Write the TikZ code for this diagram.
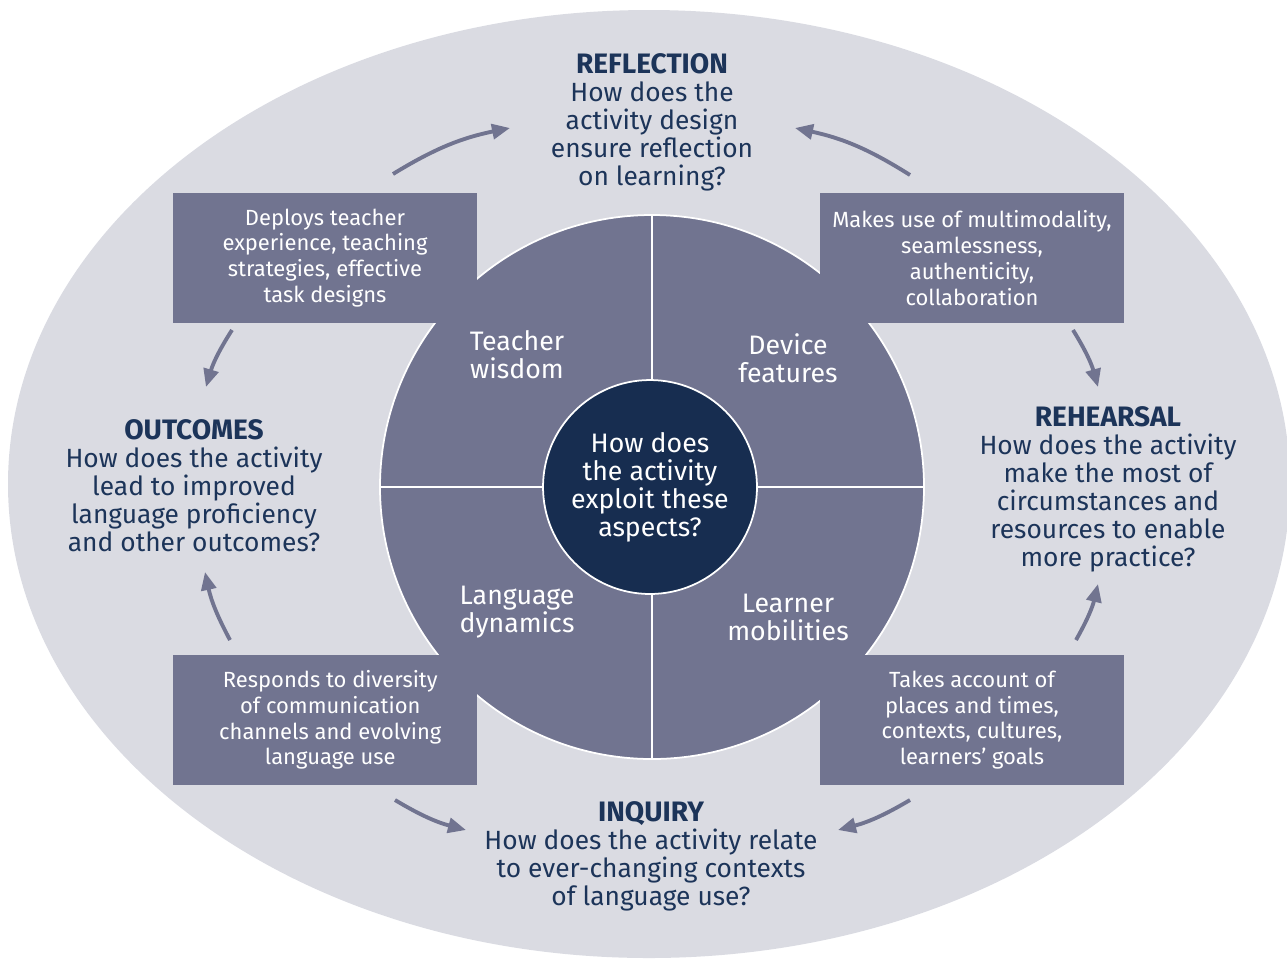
\documentclass[tikz,border=0pt]{standalone}
\usepackage{fontspec}
\setmainfont{Fira Sans}
\usetikzlibrary{arrows.meta}
\definecolor{valkoinen}{HTML}{FFFFFF}
\definecolor{harmaa}{HTML}{DADBE2}
\definecolor{violetti}{HTML}{717490}
\definecolor{tumma}{HTML}{172D50}
\definecolor{teksti}{HTML}{1C3459}

\tikzset{
  laatikko/.style={fill=violetti, minimum width=6.08cm, minimum height=2.6cm,
    text=valkoinen, align=center, font=\fontsize{12.5}{14.7}\selectfont},
  kysymys/.style={text=teksti, align=center, font=\fontsize{15}{15.9}\selectfont},
  osa/.style={text=valkoinen, align=center, font=\fontsize{15.2}{15.9}\selectfont},
  nuoli/.style={violetti, line width=2.2pt, -{Triangle[length=3.6mm,width=3mm]}},
}
\newcommand{\otsikko}[1]{{\fontsize{16}{15.9}\selectfont\bfseries #1}}

\begin{document}
\begin{tikzpicture}[x=0.02cm, y=-0.02cm]
				\useasboundingbox (0,0) rectangle (1287,958);
				\clip (0,0) rectangle (1287,958);
				\fill[harmaa] (649,484) ellipse (641 and 474);
				% ympyrä ja neljännekset
				\draw[fill=violetti, draw=valkoinen, line width=1pt] (652,487) circle (272);
				\draw[valkoinen, line width=1pt] (652,215) -- (652,759) (380,487) -- (924,487);
				\node[circle, fill=tumma, draw=valkoinen, line width=1pt, minimum size=4.28cm, inner sep=0pt, osa] (keskus) at (650,487) {How does\\the activity\\exploit these\\aspects?};
				\node[osa] (opettaja) at (517,355) {Teacher\\wisdom};
				\node[osa] (laite) at (788,358) {Device\\features};
				\node[osa] (kieli) at (517,612) {Language\\dynamics};
				\node[osa] (oppija) at (788,617) {Learner\\mobilities};
				% laatikot
				\node[laatikko] (vasenyla) at (325,258) {Deploys teacher\\experience, teaching\\strategies, effective\\task designs};
				\node[laatikko] (oikeayla) at (972,258) {Makes use of multimodality,\\seamlessness,\\authenticity,\\collaboration};
				\node[laatikko] (vasenala) at (325,720) {\hspace*{6pt}Responds to diversity\\\hspace*{6pt}of communication\\\hspace*{6pt}channels and evolving\\\hspace*{6pt}language use};
				\node[laatikko] (oikeaala) at (972,720) {Takes account of\\places and times,\\contexts, cultures,\\learners’ goals};
				% kysymykset
				\node[kysymys] (pohdinta) at (652,122) {\otsikko{REFLECTION}\\How does the\\activity design\\ensure reflection\\on learning?};
				\node[kysymys] (harjoitus) at (1108,489) {\otsikko{REHEARSAL}\\How does the activity\\make the most of\\circumstances and\\resources to enable\\more practice?};
				\node[kysymys] (tutkimus) at (651,856) {\otsikko{INQUIRY}\\How does the activity relate\\to ever-changing contexts\\of language use?};
				\node[kysymys] (tulokset) at (194,486) {\otsikko{OUTCOMES}\\How does the activity\\lead to improved\\language proficiency\\and other outcomes?};
				% nuolet
				\foreach \n/\x/\y in {a1/393/174, b1/510/128, a2/910/175, b2/795/128,
				  a3/1073/330, b3/1098/387, a4/1076/640, b4/1098/584,
				  a5/910/800, b5/838/830, a6/395/800, b6/466/830,
				  a7/230/640, b7/205/572, a8/232/330, b8/206/387}
				  \coordinate (\n) at (\x,\y);
				\draw[nuoli] (a1) to[bend left=10] (b1);
				\draw[nuoli] (a2) to[bend right=10] (b2);
				\draw[nuoli] (a3) to[bend left=8] (b3);
				\draw[nuoli] (a4) to[bend right=8] (b4);
				\draw[nuoli] (a5) to[bend left=8] (b5);
				\draw[nuoli] (a6) to[bend right=8] (b6);
				\draw[nuoli] (a7) to[bend left=8] (b7);
				\draw[nuoli] (a8) to[bend right=8] (b8);
			\end{tikzpicture}
\end{document}
